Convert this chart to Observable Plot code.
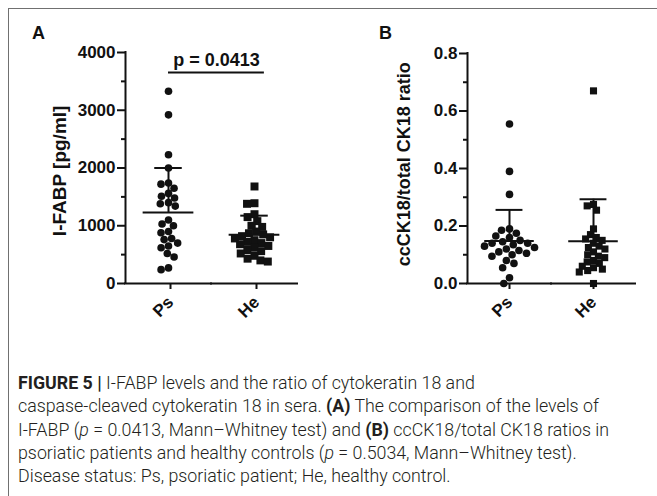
<!DOCTYPE html>
<html><head><meta charset="utf-8">
<script src="https://cdn.jsdelivr.net/npm/d3@7"></script>
<script src="https://cdn.jsdelivr.net/npm/@observablehq/plot@0.6"></script>
<style>
html,body{margin:0;padding:0;background:#fff;}
body{width:657px;height:496px;position:relative;overflow:hidden;font-family:"Liberation Sans",Arial,sans-serif;}
#frame{position:absolute;left:8px;top:8px;width:700px;height:600px;border-left:1px solid #707070;border-top:1px solid #707070;}
.panel{position:absolute;top:0;}
.letter{position:absolute;font-weight:bold;font-size:18px;color:#111;line-height:1.15;}
#caption{position:absolute;left:18px;top:371px;font-family:Roboto,"Liberation Sans",sans-serif;font-weight:300;font-size:17.8px;line-height:23.3px;color:#231f20;white-space:nowrap;}
#caption b{font-weight:bold;}
</style></head>
<body>
<div id="frame"></div>
<div class="letter" style="left:32px;top:23px">A</div>
<div class="letter" style="left:379px;top:23px">B</div>
<div id="panelA" class="panel" style="left:0px"></div>
<div id="panelB" class="panel" style="left:340px"></div>
<div id="caption"><b>FIGURE 5 |</b> I-FABP levels and the ratio of cytokeratin 18 and<br>caspase-cleaved cytokeratin 18 in sera. <b>(A)</b> The comparison of the levels of<br>I-FABP (<i>p</i> = 0.0413, Mann–Whitney test) and <b>(B)</b> ccCK18/total CK18 ratios in<br>psoriatic patients and healthy controls (<i>p</i> = 0.5034, Mann–Whitney test).<br>Disease status: Ps, psoriatic patient; He, healthy control.</div>
<script>
// ---- data ----
const groups = ["Ps", "He"];
// Panel A: I-FABP [pg/ml]
const psA = [3330, 2920, 2230, 2000, 1740, 1720, 1650, 1560, 1510, 1480, 1400, 1380, 1340, 1100, 1030, 1000, 900, 880, 780, 760, 700, 650, 620, 520, 460, 270, 240];
const heA = [1680, 1390, 1380, 1200, 1150, 1080, 1000, 980, 900, 870, 850, 820, 800, 780, 750, 720, 700, 680, 650, 620, 580, 560, 520, 480, 430, 400, 380];
const meanA = [1230, 845];
const sdA = [770, 330];
const ticksA = [0, 1000, 2000, 3000, 4000];
const minorA = [500, 1500, 2500, 3500];
const labelA = "I-FABP [pg/ml]";
const labelYA = 1950;
const pTextA = "p = 0.0413";
const pBarA = 3654;
const pTextY = 3870;
// Panel B: ccCK18/total CK18 ratio
const psB = [0.555, 0.39, 0.31, 0.19, 0.185, 0.175, 0.165, 0.16, 0.15, 0.145, 0.14, 0.14, 0.135, 0.13, 0.125, 0.12, 0.115, 0.11, 0.105, 0.10, 0.095, 0.08, 0.07, 0.055, 0.02, 0.0];
const heB = [0.67, 0.275, 0.27, 0.255, 0.19, 0.17, 0.16, 0.155, 0.15, 0.14, 0.13, 0.125, 0.12, 0.11, 0.10, 0.095, 0.09, 0.08, 0.075, 0.07, 0.06, 0.055, 0.05, 0.045, 0.04, 0.0];
const meanB = [0.148, 0.147];
const sdB = [0.108, 0.146];
const ticksB = [0, 0.2, 0.4, 0.6, 0.8];
const minorB = [0.1, 0.3, 0.5, 0.7];
const labelB = "ccCK18/total CK18 ratio";
const labelYB = 0.415;

const INK = "#111";
const FONT = "Liberation Sans, Arial, Helvetica, sans-serif";

function makePanel(o) {
  const ps = o.ps.map(v => ({g: "Ps", v}));
  const he = o.he.map(v => ({g: "He", v}));
  const st = groups.map((g, i) => ({g, mean: o.mean[i], sd: o.sd[i]}));
  const H = 340;
  const marks = [
    // axis lines
    Plot.ruleY([o.yDomain[0]], {stroke: INK, strokeWidth: 2, strokeLinecap: "square"}),
    Plot.ruleX([0], {fx: () => "Ps", x: -1, y1: o.yDomain[0], y2: o.yDomain[1], stroke: INK, strokeWidth: 2, strokeLinecap: "square"}),
    Plot.axisY(o.minor, {tickSize: 4, tickFormat: () => "", label: null, stroke: INK, strokeWidth: 2}),
    Plot.axisY(o.major, {tickSize: 8, tickPadding: 2, tickFormat: o.fmt, label: null, fontSize: 17, fontWeight: "bold", fill: INK, stroke: INK, strokeWidth: 2}),
    Plot.axisFx({anchor: "bottom", tickSize: 6, tickPadding: 10, tickRotate: -45, label: null, stroke: INK, strokeWidth: 2, fill: INK, fontSize: 17, fontWeight: "bold", dx: o.fxDx}),
    // y label
    Plot.text([o.label], {fx: () => "Ps", x: -1, y: o.labelY, rotate: -90, dx: o.labelDx, text: d => d, fontSize: o.labelSize, fontWeight: "bold", fill: INK}),
    // SD whiskers (upper) and caps
    Plot.ruleX(st, {fx: "g", x: 0, y1: "mean", y2: d => d.mean + d.sd, stroke: INK, strokeWidth: 2}),
    Plot.ruleY(st, {fx: "g", y: d => d.mean + d.sd, x1: -0.32, x2: 0.32, stroke: INK, strokeWidth: 2}),
    // data points (beeswarm via dodgeX)
    Plot.dot(ps, Plot.dodgeX({anchor: "middle", padding: o.padC}, {fx: "g", y: "v", r: o.rc, symbol: "circle", fill: INK, stroke: "none"})),
    Plot.dot(he, Plot.dodgeX({anchor: "middle", padding: o.padS}, {fx: "g", y: "v", r: o.rs, symbol: "square", fill: INK, stroke: "none"})),
    // mean lines
    Plot.ruleY(st, {fx: "g", y: "mean", x1: -0.59, x2: 0.59, stroke: INK, strokeWidth: 2})
  ];
  if (o.pText) {
    marks.push(Plot.ruleY([o.pBar], {fx: () => "Ps", y: d => d, x1: 0, x2: 2.23, stroke: INK, strokeWidth: 2}));
    marks.push(Plot.text([o.pText], {fx: () => "Ps", x: 1, dx: 5, y: o.pTextY, text: d => d, fontSize: 18, fontWeight: "bold", fill: INK}));
  }
  return Plot.plot({
    width: o.width, height: H,
    marginLeft: o.ml, marginRight: o.mr, marginTop: o.mt, marginBottom: H - 283,
    style: {fontFamily: FONT, color: INK, background: "transparent", overflow: "visible"},
    fx: {domain: groups, padding: 0, label: null},
    x: {domain: [-1, 1], axis: null},
    y: {domain: o.yDomain, label: null},
    marks
  });
}

document.getElementById("panelA").append(makePanel({
  ps: psA, he: heA, mean: meanA, sd: sdA, yDomain: [0, 4000], major: ticksA, minor: minorA,
  fmt: d3.format("d"), label: labelA, labelY: labelYA, labelDx: -66, labelSize: 19, width: 320, ml: 125, mr: 23, mt: 52,
  rc: 3.8, rs: 4.5, padC: 0, padS: -1.5, pText: pTextA, pBar: pBarA, pTextY: pTextY, fxDx: 2
}));
document.getElementById("panelB").append(makePanel({
  ps: psB, he: heB, mean: meanB, sd: sdB, yDomain: [0, 0.8], major: ticksB, minor: minorB,
  fmt: d3.format(".1f"), label: labelB, labelY: labelYB, labelDx: -63, labelSize: 18, width: 317, ml: 126, mr: 22, mt: 53,
  rc: 3.8, rs: 4, padC: 0.5, padS: -1.5
}));
</script>
</body></html>
